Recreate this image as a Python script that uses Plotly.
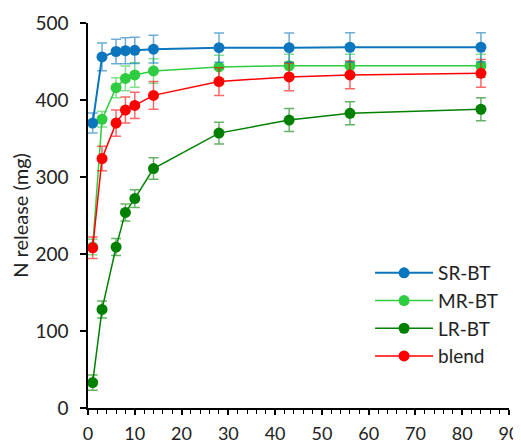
import plotly.graph_objects as go

days = [1, 3, 6, 8, 10, 14, 28, 43, 56, 84]

sr_bt = [370, 456, 463, 464, 464.5, 466, 468, 468, 468.5, 468.5]
sr_err = [13, 18, 16, 17, 17, 18, 19, 19, 19, 19]

mr_bt = [209, 375, 416, 428, 432.5, 437.7, 443, 444.5, 444.5, 444.5]
mr_err = [10, 10, 13, 16, 16, 16, 15, 15, 15, 15]

lr_bt = [33, 128, 209, 254, 272, 311, 357, 374, 382.7, 388]
lr_err = [10, 11, 11, 11, 11.5, 14, 14, 15, 15, 15]

blend = [208, 324, 370, 387, 393, 406, 424, 430, 432.5, 434.7]
blend_err = [14, 16, 17, 17, 17, 18, 18, 18, 18, 18]

series = [
    ("SR-BT", sr_bt, sr_err, "#0B76BE", "rgba(11,118,190,0.6)", 2),
    ("MR-BT", mr_bt, mr_err, "#2ECC40", "rgba(46,204,64,0.6)", 1.5),
    ("LR-BT", lr_bt, lr_err, "#008000", "rgba(0,128,0,0.6)", 1.5),
    ("blend", blend, blend_err, "#FF0000", "rgba(255,0,0,0.6)", 1.5),
]

fig = go.Figure()
order = [2, 1, 3, 0]
for i in order:
    name, ys, es, col, ecol, lw = series[i]
    fig.add_trace(go.Scatter(
        x=days, y=ys, name=name, mode="lines+markers",
        line=dict(color=col, width=lw),
        marker=dict(color=col, size=11),
        error_y=dict(type="data", array=es, visible=True, color=ecol,
                     thickness=1.5, width=5),
        cliponaxis=False,
        legendrank=i + 1,
    ))

font = "Lato, 'Open Sans', sans-serif"
fig.update_layout(
    width=513, height=440,
    margin=dict(l=80, r=12, t=15, b=40, autoexpand=False),
    paper_bgcolor="white", plot_bgcolor="white",
    font=dict(family=font, size=19, color="#222222"),
    showlegend=True,
    legend=dict(x=0.67, y=0.40, xanchor="left", yanchor="top",
                bgcolor="rgba(0,0,0,0)", font=dict(size=19, color="#222222"),
                tracegroupgap=0, itemwidth=58, traceorder="normal"),
    xaxis=dict(range=[0, 90], showline=True, linecolor="black", linewidth=1.5,
               ticks="outside", tickcolor="black", ticklen=5, tickwidth=1.5,
               dtick=10, tick0=0, showgrid=False, zeroline=False, automargin=False,
               minor=dict(ticks="outside", dtick=2, ticklen=4, tickcolor="black",
                          tickwidth=1, showgrid=False),
               tickfont=dict(size=18), ticklabelstandoff=4),
    yaxis=dict(range=[0, 500], showline=True, linecolor="black", linewidth=1.5,
               ticks="outside", tickcolor="black", ticklen=6, tickwidth=1.5,
               dtick=100, showgrid=False, zeroline=False, automargin=False,
               title=dict(text="N release (mg)", font=dict(size=20), standoff=12),
               tickfont=dict(size=19), ticklabelstandoff=8),
)

fig.write_html("out.html")
